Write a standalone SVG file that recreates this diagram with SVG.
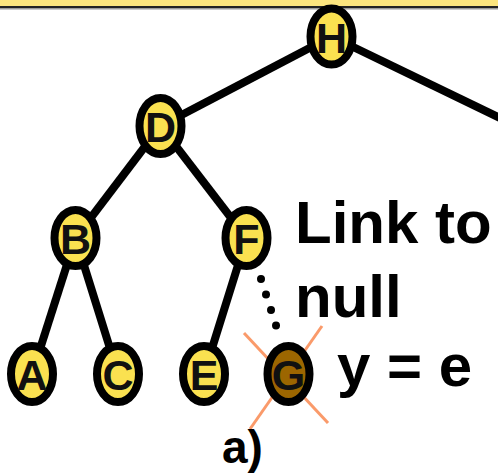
<svg xmlns="http://www.w3.org/2000/svg" width="498" height="473" viewBox="0 0 498 473">
<style>
.n ellipse{fill:#FAE150;stroke:#000;stroke-width:8}
.n text{font-family:"Liberation Sans",Arial,sans-serif;font-weight:bold;font-size:43px;text-anchor:middle;fill:#111}
.e line{stroke:#000;stroke-width:8}
.lbl{font-family:"Liberation Sans",Arial,sans-serif;font-weight:bold;fill:#000}
.x{stroke:#FA9A6A;stroke-width:3}
</style>
<rect x="0" y="0" width="498" height="6" fill="#FCE57E"/>
<rect x="0" y="6" width="498" height="2" fill="#222"/>
<rect x="0" y="8" width="498" height="1.5" fill="#9a9a9a"/>
<g id="connectors" class="e">
<line x1="331.5" y1="36.5" x2="560" y2="147"/>
<line x1="331.5" y1="36.5" x2="160.5" y2="126"/>
<line x1="160.5" y1="126" x2="75.5" y2="238"/>
<line x1="160.5" y1="126" x2="246.5" y2="238"/>
<line x1="75.5" y1="238" x2="32" y2="374"/>
<line x1="75.5" y1="238" x2="118" y2="374"/>
<line x1="246.5" y1="238" x2="204" y2="374"/>
<line x1="261" y1="279" x2="281" y2="341" stroke-dasharray="0 16.3" stroke-linecap="round" stroke-width="7"/>
</g>
<g id="H" class="n"><ellipse cx="331.5" cy="36.5" rx="21" ry="28"/><text x="331.5" y="53">H</text></g>
<g id="D" class="n"><ellipse cx="160.5" cy="126" rx="21" ry="28"/><text x="160.5" y="142">D</text></g>
<g id="B" class="n"><ellipse cx="75.5" cy="238" rx="21" ry="28"/><text x="75.5" y="254">B</text></g>
<g id="F" class="n"><ellipse cx="246.5" cy="238" rx="21" ry="28"/><text x="246.5" y="254">F</text></g>
<g id="A" class="n"><ellipse cx="32" cy="374" rx="21" ry="28"/><text x="32" y="390">A</text></g>
<g id="C" class="n"><ellipse cx="118" cy="374" rx="21" ry="28"/><text x="118" y="390">C</text></g>
<g id="E" class="n"><ellipse cx="204" cy="374" rx="21" ry="28"/><text x="204" y="390">E</text></g>
<g id="G" class="n">
<line class="x" x1="244" y1="333" x2="328" y2="423"/>
<line class="x" x1="322" y1="326" x2="250" y2="429"/>
<ellipse cx="288.5" cy="374" rx="21" ry="28" style="fill:#9C6600"/><text x="288.5" y="390">G</text></g>
<text class="lbl" x="295" y="243" font-size="60">Link to</text>
<text class="lbl" x="295" y="317" font-size="60">null</text>
<text class="lbl" x="337" y="386" font-size="60">y = e</text>
<text class="lbl" x="222" y="463" font-size="46">a)</text>
</svg>
